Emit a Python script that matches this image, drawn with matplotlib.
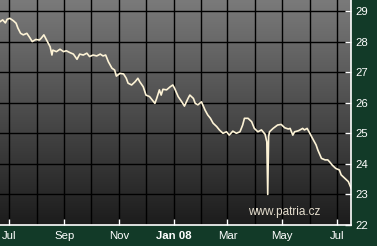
import numpy as np
import pandas as pd
import matplotlib
matplotlib.use("Agg")
import matplotlib.pyplot as plt
import matplotlib.dates as mdates

# Kurz (odhad z obrazku)
datumy = [
    "2007-06-21", "2007-06-24", "2007-06-27", "2007-06-29", "2007-07-02", "2007-07-06",
    "2007-07-09", "2007-07-11", "2007-07-14", "2007-07-17", "2007-07-21", "2007-07-24",
    "2007-07-27", "2007-07-31", "2007-08-04", "2007-08-06", "2007-08-09", "2007-08-12",
    "2007-08-16", "2007-08-18", "2007-08-19", "2007-08-23", "2007-08-27", "2007-08-31",
    "2007-09-03", "2007-09-07", "2007-09-11", "2007-09-15", "2007-09-18", "2007-09-22",
    "2007-09-26", "2007-09-29", "2007-10-03", "2007-10-07", "2007-10-11", "2007-10-14",
    "2007-10-17", "2007-10-20", "2007-10-24", "2007-10-27", "2007-10-29", "2007-11-02",
    "2007-11-06", "2007-11-09", "2007-11-11", "2007-11-15", "2007-11-19", "2007-11-22",
    "2007-11-24", "2007-11-28", "2007-12-01", "2007-12-05", "2007-12-08", "2007-12-11",
    "2007-12-13", "2007-12-16", "2007-12-18", "2007-12-20", "2007-12-24", "2007-12-28",
    "2007-12-31", "2008-01-02", "2008-01-06", "2008-01-10", "2008-01-13", "2008-01-17",
    "2008-01-19", "2008-01-23", "2008-01-25", "2008-01-28", "2008-02-01", "2008-02-05",
    "2008-02-08", "2008-02-11", "2008-02-14", "2008-02-18", "2008-02-21", "2008-02-25",
    "2008-02-29", "2008-03-03", "2008-03-07", "2008-03-11", "2008-03-15", "2008-03-18",
    "2008-03-20", "2008-03-24", "2008-03-28", "2008-03-31", "2008-04-04", "2008-04-08",
    "2008-04-12", "2008-04-14", "2008-04-15", "2008-04-16", "2008-04-17", "2008-04-21",
    "2008-04-26", "2008-04-30", "2008-05-04", "2008-05-08", "2008-05-10", "2008-05-13",
    "2008-05-15", "2008-05-19", "2008-05-21", "2008-05-24", "2008-05-26", "2008-05-29",
    "2008-06-01", "2008-06-05", "2008-06-08", "2008-06-10", "2008-06-14", "2008-06-18",
    "2008-06-21", "2008-06-23", "2008-06-26", "2008-06-30", "2008-07-04", "2008-07-06",
    "2008-07-10", "2008-07-14", "2008-07-17",
]
kurz = [
    28.65, 28.71, 28.61, 28.73, 28.76, 28.68,
    28.60, 28.44, 28.27, 28.22, 28.27, 28.14,
    28.00, 28.07, 28.05, 28.11, 28.22, 28.05,
    27.83, 27.56, 27.72, 27.67, 27.75, 27.67,
    27.70, 27.64, 27.59, 27.42, 27.59, 27.56,
    27.62, 27.51, 27.56, 27.53, 27.59, 27.53,
    27.56, 27.34, 27.13, 27.07, 26.87, 26.96,
    26.94, 26.80, 26.64, 26.58, 26.69, 26.80,
    26.69, 26.52, 26.25, 26.20, 26.09, 25.98,
    26.14, 26.42, 26.25, 26.44, 26.42, 26.52,
    26.58, 26.47, 26.20, 26.03, 25.89, 26.14,
    26.25, 26.14, 25.98, 25.93, 26.03, 25.76,
    25.60, 25.49, 25.33, 25.22, 25.11, 25.00,
    25.05, 24.94, 25.07, 25.00, 25.05, 25.27,
    25.49, 25.49, 25.38, 25.16, 25.05, 25.11,
    24.97, 24.72, 23.00, 24.90, 25.05, 25.16,
    25.27, 25.29, 25.18, 25.14, 25.16, 24.94,
    25.05, 25.08, 25.11, 25.16, 25.11, 25.16,
    25.00, 24.78, 24.62, 24.45, 24.18, 24.13,
    24.13, 24.07, 23.96, 23.85, 23.80, 23.64,
    23.53, 23.42, 23.21,
]
y_ticky = [22, 23, 24, 25, 26, 27, 28, 29]
x_popisky = ["Jul", "Sep", "Nov", "Jan 08", "Mar", "May", "Jul"]

x = pd.to_datetime(datumy)
zelena = "#123a28"
font = "Liberation Sans"

fig = plt.figure(figsize=(3.77, 2.46), dpi=100, facecolor=zelena)
ax = fig.add_axes([0, 21 / 246, 351 / 377, 225 / 246])

# pozadi s prechodem
grad = np.linspace(0, 1, 256).reshape(-1, 1)
ax.imshow(grad, cmap=matplotlib.colors.LinearSegmentedColormap.from_list("g", ["#1c1c1c", "#7a7a7a"]),
          aspect="auto", extent=[0, 1, 1, 0], transform=ax.transAxes, zorder=0)

ax.set_xlim(pd.Timestamp("2007-06-21"), pd.Timestamp("2008-07-17"))
ax.set_ylim(22, 29.36)

# mrizka
for m in pd.date_range("2007-07-01", "2008-07-01", freq="MS"):
    ax.axvline(m, color="black", lw=1.0, zorder=1)
for t in y_ticky[1:]:
    ax.axhline(t, color="black", lw=1.0, zorder=1)

ax.plot(x, kurz, color="#fdf3d6", lw=1.2, zorder=3)

ax.yaxis.tick_right()
ax.set_yticks(y_ticky)
ax.set_yticklabels([str(t) for t in y_ticky])
tick_pos = pd.date_range("2007-07-01", "2008-07-01", freq="2MS")
ax.set_xticks(tick_pos)
ax.set_xticklabels(x_popisky)
for lab in ax.get_xticklabels():
    if lab.get_text().startswith("Jan"):
        lab.set_fontweight("bold")

ax.tick_params(axis="both", colors="white", direction="in", length=4, width=1,
               labelsize=8.2, pad=3)
ax.tick_params(axis="x", pad=4)
for lab in ax.get_xticklabels() + ax.get_yticklabels():
    lab.set_fontfamily(font)

for s in ["left", "top"]:
    ax.spines[s].set_visible(False)
for s in ["right", "bottom"]:
    ax.spines[s].set_color("white")
    ax.spines[s].set_linewidth(1.2)
    ax.spines[s].set_zorder(5)

ax.text(0.81, 0.057, "www.patria.cz", transform=ax.transAxes, ha="center", va="center",
        color="#e6dfcf", fontsize=8.5, family=font, zorder=4)

fig.savefig("out.png", dpi=100, facecolor=zelena)
